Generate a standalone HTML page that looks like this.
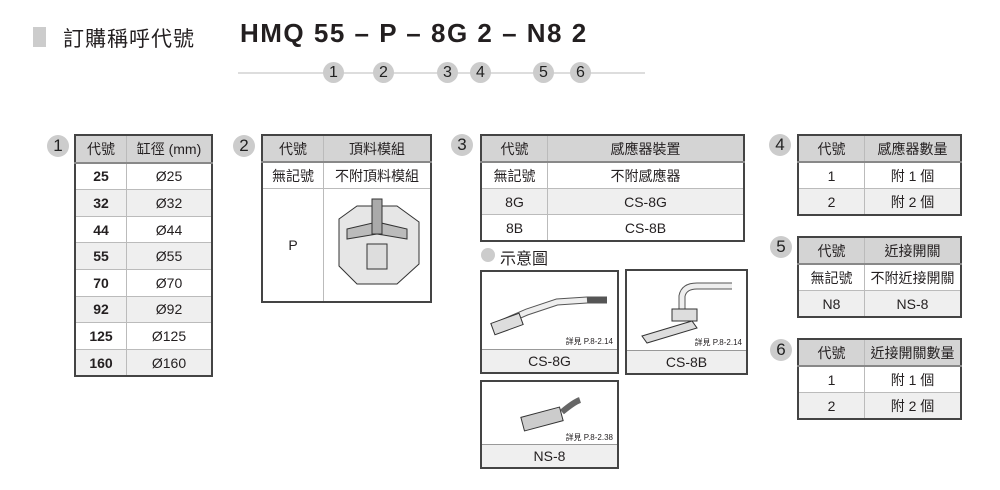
<!DOCTYPE html>
<html><head><meta charset="utf-8"><style>
body{margin:0;width:1000px;height:490px;background:#fff;position:relative;overflow:hidden;font-family:"Liberation Sans","Noto Sans CJK TC",sans-serif;color:#231f20}
.a{position:absolute}
table{position:absolute;border-collapse:collapse;border:2px solid #444;font-size:14px}
td{border:1px solid #bbb;text-align:center;padding:0;height:25px}
tr.h td{background:#d4d4d4;border-bottom:2px solid #888}
tr.g td{background:#efefef}
.n td{height:25.6px}
.n tr:not(.h) td:first-child{font-weight:bold}
.b{position:absolute;width:22px;height:22px;border-radius:50%;background:#ccc;font-size:17px;text-align:center;line-height:22px;color:#222}
.s{position:absolute;width:21px;height:21px;border-radius:50%;background:#ccc;font-size:16px;text-align:center;line-height:21px;color:#222}
.box{position:absolute;border:2px solid #444;background:#fff}
.lab{position:absolute;left:0;right:0;bottom:0;height:22px;background:#efefef;border-top:1px solid #999;text-align:center;font-size:14px;line-height:22px}
.ref{position:absolute;right:4px;font-size:8px}
</style></head><body>
<div class="a" style="left:33px;top:27px;width:13px;height:20px;background:#ccc"></div>
<div class="a" style="left:63px;top:23px;font-size:21px;letter-spacing:1px">訂購稱呼代號</div>
<div class="a" style="left:240px;top:18px;font-size:26px;font-weight:bold;letter-spacing:1.5px;white-space:nowrap">HMQ 55 – P – 8G 2 – N8 2</div>
<div class="a" style="left:238px;top:72px;width:407px;height:2px;background:#ddd"></div>
<div class="s" style="left:323px;top:62px">1</div>
<div class="s" style="left:373px;top:62px">2</div>
<div class="s" style="left:437px;top:62px">3</div>
<div class="s" style="left:470px;top:62px">4</div>
<div class="s" style="left:533px;top:62px">5</div>
<div class="s" style="left:570px;top:62px">6</div>

<div class="b" style="left:47px;top:135px">1</div>
<table class="n" style="left:74px;top:134px;width:139px">
<tr class="h"><td style="width:50px">代號</td><td>缸徑 (mm)</td></tr>
<tr><td>25</td><td>Ø25</td></tr><tr class="g"><td>32</td><td>Ø32</td></tr>
<tr><td>44</td><td>Ø44</td></tr><tr class="g"><td>55</td><td>Ø55</td></tr>
<tr><td>70</td><td>Ø70</td></tr><tr class="g"><td>92</td><td>Ø92</td></tr>
<tr><td>125</td><td>Ø125</td></tr><tr class="g"><td>160</td><td>Ø160</td></tr>
</table>

<div class="b" style="left:233px;top:135px">2</div>
<table style="left:261px;top:134px;width:171px">
<tr class="h"><td style="width:60px">代號</td><td>頂料模組</td></tr>
<tr><td>無記號</td><td>不附頂料模組</td></tr>
<tr><td style="height:112px">P</td><td><svg width="100" height="100" viewBox="0 0 100 100"><path d="M12 25 L30 12 L70 12 L92 28 L92 70 L70 90 L30 90 L12 72Z" fill="#e6e6e6" stroke="#333"/><path d="M20 35 L50 28 L80 35 L80 45 L50 40 L20 45Z" fill="#bbb" stroke="#333"/><path d="M45 5 L55 5 L55 40 L45 40Z" fill="#aaa" stroke="#333"/><rect x="40" y="50" width="20" height="25" fill="#ddd" stroke="#333"/></svg></td></tr>
</table>

<div class="b" style="left:451px;top:134px">3</div>
<table style="left:480px;top:134px;width:265px">
<tr class="h"><td style="width:65px">代號</td><td>感應器裝置</td></tr>
<tr><td>無記號</td><td>不附感應器</td></tr>
<tr class="g"><td>8G</td><td>CS-8G</td></tr>
<tr><td>8B</td><td>CS-8B</td></tr>
</table>
<div class="a" style="left:481px;top:248px;width:14px;height:14px;border-radius:50%;background:#ccc"></div>
<div class="a" style="left:500px;top:245px;font-size:16px">示意圖</div>

<div class="box" style="left:480px;top:270px;width:135px;height:100px">
<svg class="a" style="left:5px;top:8px" width="125" height="60"><path d="M10 45 L40 32 L70 22 L100 20 L120 20" stroke="#555" stroke-width="7" fill="none"/><path d="M10 45 L40 32 L70 22 L100 20" stroke="#eee" stroke-width="5" fill="none"/><rect x="5" y="38" width="30" height="12" fill="#ddd" stroke="#333" transform="rotate(-20 20 44)"/></svg>
<div class="ref" style="top:64px">詳見 P.8-2.14</div><div class="lab">CS-8G</div></div>
<div class="box" style="left:625px;top:269px;width:119px;height:102px">
<svg class="a" style="left:5px;top:5px" width="110" height="70"><path d="M50 35 L50 20 Q52 10 65 10 L100 10" stroke="#555" stroke-width="7" fill="none"/><path d="M50 35 L50 20 Q52 10 65 10 L100 10" stroke="#eee" stroke-width="5" fill="none"/><rect x="40" y="33" width="25" height="12" fill="#ddd" stroke="#333"/><path d="M10 60 L60 45 L65 52 L15 67Z" fill="#ddd" stroke="#333"/></svg>
<div class="ref" style="top:66px">詳見 P.8-2.14</div><div class="lab">CS-8B</div></div>
<div class="box" style="left:480px;top:380px;width:135px;height:85px">
<svg class="a" style="left:30px;top:8px" width="90" height="45"><rect x="10" y="22" width="40" height="14" fill="#ccc" stroke="#333" transform="rotate(-15 30 29)"/><path d="M50 22 Q62 12 68 10" stroke="#666" stroke-width="6" fill="none"/></svg>
<div class="ref" style="top:50px">詳見 P.8-2.38</div><div class="lab">NS-8</div></div>

<div class="b" style="left:769px;top:134px">4</div>
<table style="left:797px;top:134px;width:165px">
<tr class="h"><td style="width:65px">代號</td><td>感應器數量</td></tr>
<tr><td>1</td><td>附 1 個</td></tr><tr class="g"><td>2</td><td>附 2 個</td></tr>
</table>
<div class="b" style="left:770px;top:236px">5</div>
<table style="left:797px;top:236px;width:165px">
<tr class="h"><td style="width:65px">代號</td><td>近接開關</td></tr>
<tr><td>無記號</td><td>不附近接開關</td></tr><tr class="g"><td>N8</td><td>NS-8</td></tr>
</table>
<div class="b" style="left:770px;top:339px">6</div>
<table style="left:797px;top:338px;width:165px">
<tr class="h"><td style="width:65px">代號</td><td>近接開關數量</td></tr>
<tr><td>1</td><td>附 1 個</td></tr><tr class="g"><td>2</td><td>附 2 個</td></tr>
</table>
</body></html>
